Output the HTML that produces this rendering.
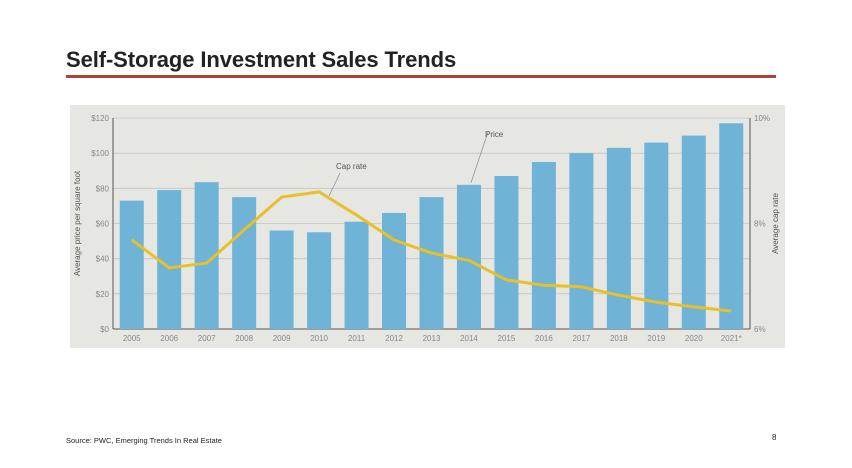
<!DOCTYPE html>
<html><head><meta charset="utf-8"><style>
body{margin:0;width:852px;height:468px;background:#fff;font-family:"Liberation Sans",sans-serif;overflow:hidden;position:relative}
#title{position:absolute;left:66px;top:47px;font-size:22px;font-weight:bold;color:#222;letter-spacing:-0.1px}
#rule{position:absolute;left:66px;top:75px;width:710px;height:3px;background:#a8443a}
#src{position:absolute;left:66px;top:436px;font-size:7.5px;color:#222}
#pg{position:absolute;left:772px;top:433px;font-size:8px;color:#222}
svg{position:absolute;left:0;top:0}
</style></head><body>
<div id="title">Self-Storage Investment Sales Trends</div>
<div id="rule"></div>
<svg id="chart" width="852" height="468"></svg>
<div id="src">Source:  PWC, Emerging Trends In Real Estate</div>
<div id="pg">8</div>
<script>
const years=["2005","2006","2007","2008","2009","2010","2011","2012","2013","2014","2015","2016","2017","2018","2019","2020","2021*"];
const prices=[73,79,83.5,75,56,55,61,66,75,82,87,95,100,103,106,110,117];
const capRates=[7.69,7.16,7.25,7.88,8.5,8.6,8.16,7.69,7.44,7.3,6.93,6.83,6.8,6.64,6.51,6.42,6.34];
const leftTicks=[0,20,40,60,80,100,120];
const rightTicks=[6,8,10];
const NS="http://www.w3.org/2000/svg";
const svg=document.getElementById('chart');
const x0=113,x1=750,yTop=118,yBot=329;
const step=(x1-x0)/years.length;
const xC=i=>x0+step*(i+0.5);
const yL=v=>yBot-(v/120)*(yBot-yTop);
const yR=v=>yBot-((v-6)/4)*(yBot-yTop);
function mk(t,a,p){const e=document.createElementNS(NS,t);for(const k in a)e.setAttribute(k,a[k]);(p||svg).appendChild(e);return e;}
let bg=mk('rect',{x:70,y:105,width:715,height:243,fill:'#e6e6e3'});


leftTicks.forEach(t=>{
  const g=mk('line',{x1:x0,x2:x1,y1:yL(t),y2:yL(t),stroke:t===0?'#555':'#c4c4c0','stroke-width':t===0?1:0.8});
  
  
  const l=mk('text',{x:x0-4,y:yL(t)+3,'text-anchor':'end','font-size':8,fill:'#888'});l.textContent='$'+t;
  
  
});
rightTicks.forEach(t=>{
  const l=mk('text',{x:x1+4,y:yR(t)+3,'font-size':8,fill:'#888'});l.textContent=t+'%';
  
  
});
let ax=mk('line',{x1:x0,x2:x0,y1:yTop,y2:yBot,stroke:'#555'});


let ax2=mk('line',{x1:x1,x2:x1,y1:yTop,y2:yBot,stroke:'#555'});


const bw=24;
years.forEach((y,i)=>{
  const b=mk('rect',{x:xC(i)-bw/2,y:yL(prices[i]),width:bw,height:yBot-yL(prices[i]),fill:'#6fb3d6'});
  
  
  const l=mk('text',{x:xC(i),y:yBot+12,'text-anchor':'middle','font-size':8,fill:'#888'});l.textContent=y;
  
  
});
const pts=capRates.map((v,i)=>xC(i)+','+yR(v)).join(' ');
let ln=mk('polyline',{points:pts,fill:'none',stroke:'#e8c02c','stroke-width':3,'stroke-linejoin':'round'});


let a1=mk('line',{x1:xC(5)+10,y1:yR(capRates[5])+4,x2:340,y2:173,stroke:'#888','stroke-width':0.7});


let t1=mk('text',{x:336,y:169,'font-size':8,fill:'#555'});t1.textContent='Cap rate';


let a2=mk('line',{x1:xC(9)+2,y1:yL(prices[9])-2,x2:488,y2:yL(112),stroke:'#888','stroke-width':0.7});


let t2=mk('text',{x:485,y:137,'font-size':8,fill:'#555'});t2.textContent='Price';


let yt=mk('text',{x:0,y:0,'font-size':8,fill:'#555','text-anchor':'middle',transform:'translate(80,'+((yTop+yBot)/2)+') rotate(-90)'});yt.textContent='Average price per square foot';


let yt2=mk('text',{x:0,y:0,'font-size':8,fill:'#555','text-anchor':'middle',transform:'translate(778,'+((yTop+yBot)/2)+') rotate(-90)'});yt2.textContent='Average cap rate';


</script>
</body></html>
